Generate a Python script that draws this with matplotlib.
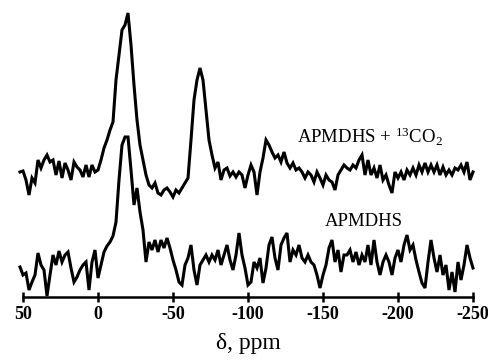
import numpy as np
import matplotlib
matplotlib.use("Agg")
import matplotlib.pyplot as plt

plt.rcParams['font.family'] = ['Liberation Serif', 'DejaVu Serif']
plt.rcParams['mathtext.fontset'] = 'custom'
plt.rcParams['mathtext.rm'] = 'Liberation Serif'
plt.rcParams['mathtext.it'] = 'Liberation Serif:italic'

# Intensities (a.u.) sampled every 2 ppm starting at 52 ppm
top_intensity = [
    128, 129, 120, 105, 122, 117, 140, 132, 140, 145, 138, 140, 125, 139, 122, 137,
    130, 120, 138, 133, 130, 123, 135, 123, 135, 128, 130, 140, 152, 160, 170, 178,
    220, 245, 270, 275, 287, 255, 215, 180, 155, 140, 125, 115, 112, 117, 107, 105,
    110, 112, 108, 103, 110, 107, 112, 117, 122, 160, 200, 220, 232, 220, 190, 160,
    145, 132, 138, 120, 130, 132, 124, 128, 123, 128, 125, 112, 125, 135, 128, 105,
    128, 142, 160, 155, 148, 142, 145, 138, 148, 137, 132, 137, 130, 132, 128, 122,
    128, 125, 118, 128, 122, 115, 125, 120, 118, 110, 125, 130, 135, 132, 130, 135,
    132, 140, 145, 125, 140, 125, 132, 122, 135, 120, 125, 115, 107, 128, 122, 128,
    120, 130, 125, 132, 125, 135, 128, 137, 128, 135, 128, 135, 125, 133, 125, 130,
    125, 132, 130, 135, 128, 138, 120, 128,
]
bottom_intensity = [
    33, 25, 27, 10, 18, 25, 47, 35, 30, 4, 25, 45, 35, 49, 38, 45,
    48, 32, 18, 23, 30, 35, 38, 10, 38, 50, 22, 35, 48, 54, 58, 64,
    78, 120, 155, 163, 163, 130, 95, 112, 88, 70, 38, 58, 50, 60, 48, 60,
    52, 62, 52, 40, 30, 18, 15, 35, 42, 55, 30, 15, 35, 40, 45, 38,
    45, 40, 50, 35, 45, 55, 40, 30, 45, 67, 45, 32, 15, 18, 38, 32,
    42, 17, 32, 55, 63, 42, 30, 55, 62, 67, 38, 50, 45, 55, 42, 38,
    45, 38, 35, 25, 12, 25, 35, 52, 60, 38, 50, 28, 45, 45, 50, 38,
    48, 35, 45, 38, 55, 35, 60, 38, 25, 38, 45, 38, 25, 42, 50, 38,
    55, 65, 50, 55, 40, 28, 17, 12, 38, 60, 42, 28, 45, 25, 35, 10,
    28, 8, 38, 20, 35, 55, 42, 32,
]
start_ppm = 52
step_ppm = 2
ppm_top = start_ppm - step_ppm * np.arange(len(top_intensity))
ppm_bottom = start_ppm - step_ppm * np.arange(len(bottom_intensity))

xticks = [50, 0, -50, -100, -150, -200, -250]
top_label = r'APMDHS + $^{13}$CO$_2$'
bottom_label = 'APMDHS'
xlabel = 'δ, ppm'

fig = plt.figure(figsize=(4.88, 3.60), dpi=100)
ax = fig.add_axes([23/488, 63/360, 450/488, 297/360])
ax.plot(ppm_top, top_intensity, color='black', lw=2.2, clip_on=False, solid_joinstyle='miter')
ax.plot(ppm_bottom, bottom_intensity, color='black', lw=2.2, clip_on=False, solid_joinstyle='miter')

ax.set_xlim(50, -250)
ax.set_ylim(3, 300)
ax.set_xticks(xticks)
ax.set_xticklabels([str(t) for t in xticks], fontweight='bold', fontsize=13)
ax.set_yticks([])
for s in ['top', 'left', 'right']:
    ax.spines[s].set_visible(False)
ax.spines['bottom'].set_linewidth(1.8)
ax.tick_params(axis='x', direction='inout', length=7, width=1.8, pad=3)
ax.set_xlabel(xlabel, fontsize=17, labelpad=7)

ax.text(-132.7, 163, top_label, fontsize=13.5, ha='left', va='center')
ax.text(-177, 78, bottom_label, fontsize=13.5, ha='center', va='center')

fig.savefig('out.png', dpi=100)
